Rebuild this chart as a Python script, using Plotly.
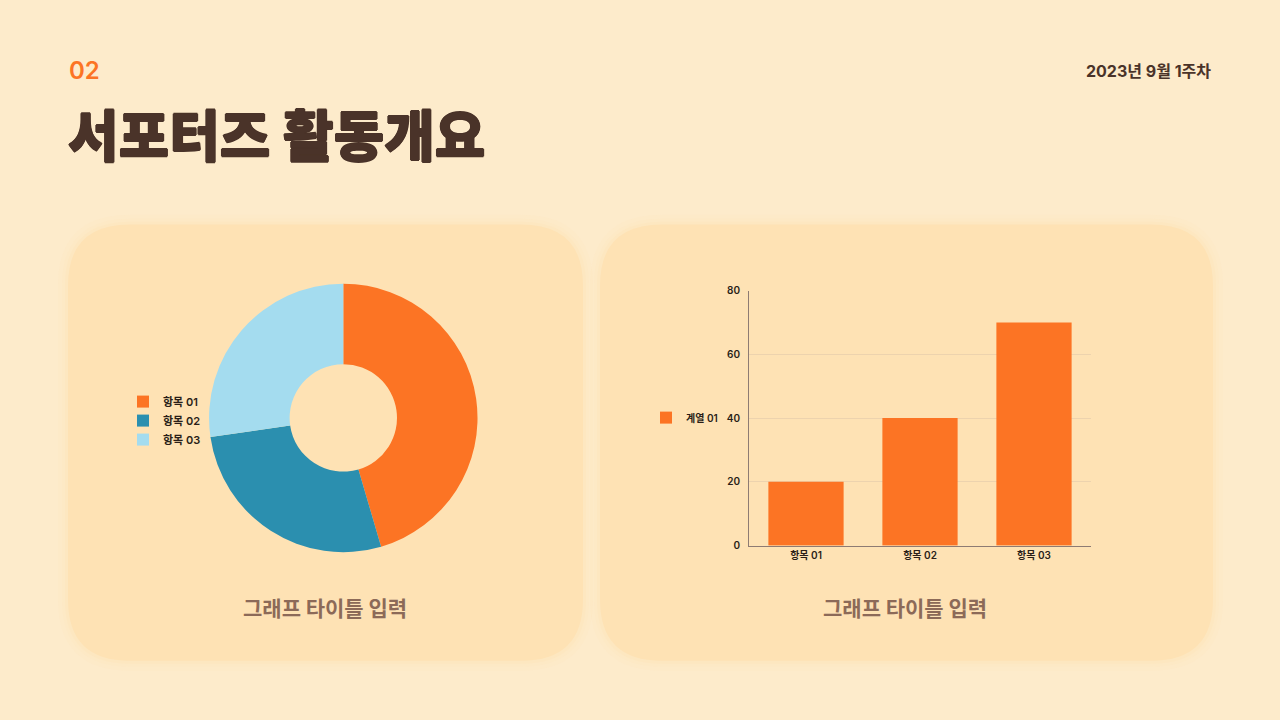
import plotly.graph_objects as go

# ---- data ----
pie_labels = ["항목 01", "항목 02", "항목 03"]
pie_values = [5, 3, 3]
pie_colors = ["#FC7424", "#2B8FAF", "#A4DCEF"]

bar_categories = ["항목 01", "항목 02", "항목 03"]
bar_series_name = "계열 01"
bar_values = [20, 40, 70]
bar_color = "#FC7424"
y_ticks = [0, 20, 40, 60, 80]

title_text = "서포터즈 활동개요"
section_text = "02"
date_text = "2023년 9월 1주차"
chart_title_left = "그래프 타이틀 입력"
chart_title_right = "그래프 타이틀 입력"

W, H = 1280, 720
BG = "#FDEBCB"
PANEL = "#FEE2B4"
BROWN = "#4A3329"
FONT = "Inter, Noto Sans CJK KR, sans-serif"
KFONT = "Noto Sans CJK KR, sans-serif"


def rrect(x0, y0, x1, y1, r):
    # pixel coords (top-left origin) -> paper coords path
    def P(x, y):
        return f"{x / W:.5f},{1 - y / H:.5f}"
    return (
        f"M {P(x0 + r, y0)} L {P(x1 - r, y0)} Q {P(x1, y0)} {P(x1, y0 + r)} "
        f"L {P(x1, y1 - r)} Q {P(x1, y1)} {P(x1 - r, y1)} "
        f"L {P(x0 + r, y1)} Q {P(x0, y1)} {P(x0, y1 - r)} "
        f"L {P(x0, y0 + r)} Q {P(x0, y0)} {P(x0 + r, y0)} Z"
    )


shapes = []
for (x0, y0, x1, y1) in [(68, 222, 583, 665), (600, 222, 1213, 665)]:
    for g, op in [(10, 0.10), (6, 0.15), (3, 0.25)]:
        shapes.append(dict(type="path", xref="paper", yref="paper",
                           path=rrect(x0 - g, y0 - g, x1 + g, y1 + g, 62 + g),
                           fillcolor=PANEL, opacity=op, line=dict(width=0), layer="below"))
    shapes.append(dict(type="path", xref="paper", yref="paper",
                       path=rrect(x0, y0, x1, y1, 62),
                       fillcolor=PANEL, line=dict(width=0), layer="below"))

fig = go.Figure()

fig.add_trace(go.Pie(
    labels=pie_labels, values=pie_values, hole=0.4, sort=False, direction="clockwise",
    rotation=0, marker=dict(colors=pie_colors, line=dict(width=0)),
    textinfo="none", domain=dict(x=[206.9 / W, 479.7 / W], y=[1 - 554.6 / H, 1 - 282 / H]),
    legend="legend", showlegend=True,
))

fig.add_trace(go.Bar(
    x=bar_categories, y=bar_values, name=bar_series_name, marker=dict(color=bar_color, line=dict(width=0)),
    legend="legend2", xaxis="x", yaxis="y",
))

bold_shadow = ("0.7px 0 0 {c}, -0.7px 0 0 {c}, 0 0.7px 0 {c}, 0 -0.7px 0 {c}")

fig.update_layout(
    width=W, height=H, margin=dict(l=0, r=0, t=0, b=0),
    paper_bgcolor=BG, plot_bgcolor="rgba(0,0,0,0)",
    shapes=shapes, bargap=0.34,
    font=dict(family=FONT, color="#2A1E18", size=11),
    xaxis=dict(domain=[749 / W, 1091 / W], showgrid=False, showline=True, linecolor="#8E7B73",
               linewidth=1, ticks="", tickfont=dict(size=10, color="#2A1E18", family=FONT, weight=600),
               fixedrange=True),
    yaxis=dict(domain=[1 - 548 / H, 1 - 289 / H], range=[0, 80], tickvals=y_ticks,
               showgrid=True, gridcolor="#EDD3AE", gridwidth=1, showline=True, linecolor="#8E7B73",
               linewidth=1, zeroline=False, ticks="",
               tickfont=dict(size=10, color="#2A1E18", family=FONT, weight=600),
               ticklabelstandoff=6),
    legend=dict(x=123 / W, y=1 - 387 / H, xanchor="left", yanchor="top", bgcolor="rgba(0,0,0,0)",
                font=dict(size=11, color="#2A1E18", family=FONT, weight=600), itemwidth=30,
                tracegroupgap=0),
    legend2=dict(x=646 / W, y=1 - 418 / H, xanchor="left", yanchor="middle", bgcolor="rgba(0,0,0,0)",
                 font=dict(size=10, color="#2A1E18", family=FONT, weight=600), itemwidth=30),
    annotations=[
        dict(text=section_text, x=67 / W, y=1 - 66 / H, xref="paper", yref="paper", xanchor="left",
             yanchor="middle", showarrow=False, font=dict(size=24, color="#FC7424", family=FONT, weight=600)),
        dict(text=date_text, x=1213 / W, y=1 - 66 / H, xref="paper", yref="paper", xanchor="right",
             yanchor="middle", showarrow=False, font=dict(size=16, color=BROWN, family=FONT, weight=700)),
        dict(text=title_text, x=66 / W, y=1 - 128 / H, xref="paper", yref="paper", xanchor="left",
             yanchor="middle", showarrow=False,
             font=dict(size=55, color=BROWN, family=KFONT, weight=900,
                       shadow=bold_shadow.format(c=BROWN))),
        dict(text=chart_title_left, x=325 / W, y=1 - 610 / H, xref="paper", yref="paper", xanchor="center",
             yanchor="middle", showarrow=False, font=dict(size=21, color="#8C6A58", family=KFONT, weight=700)),
        dict(text=chart_title_right, x=905 / W, y=1 - 610 / H, xref="paper", yref="paper", xanchor="center",
             yanchor="middle", showarrow=False, font=dict(size=21, color="#8C6A58", family=KFONT, weight=700)),
    ],
)

fig.write_html("out.html", config={"displayModeBar": False},
               post_script="document.body.style.margin='0';document.body.style.overflow='hidden';")
